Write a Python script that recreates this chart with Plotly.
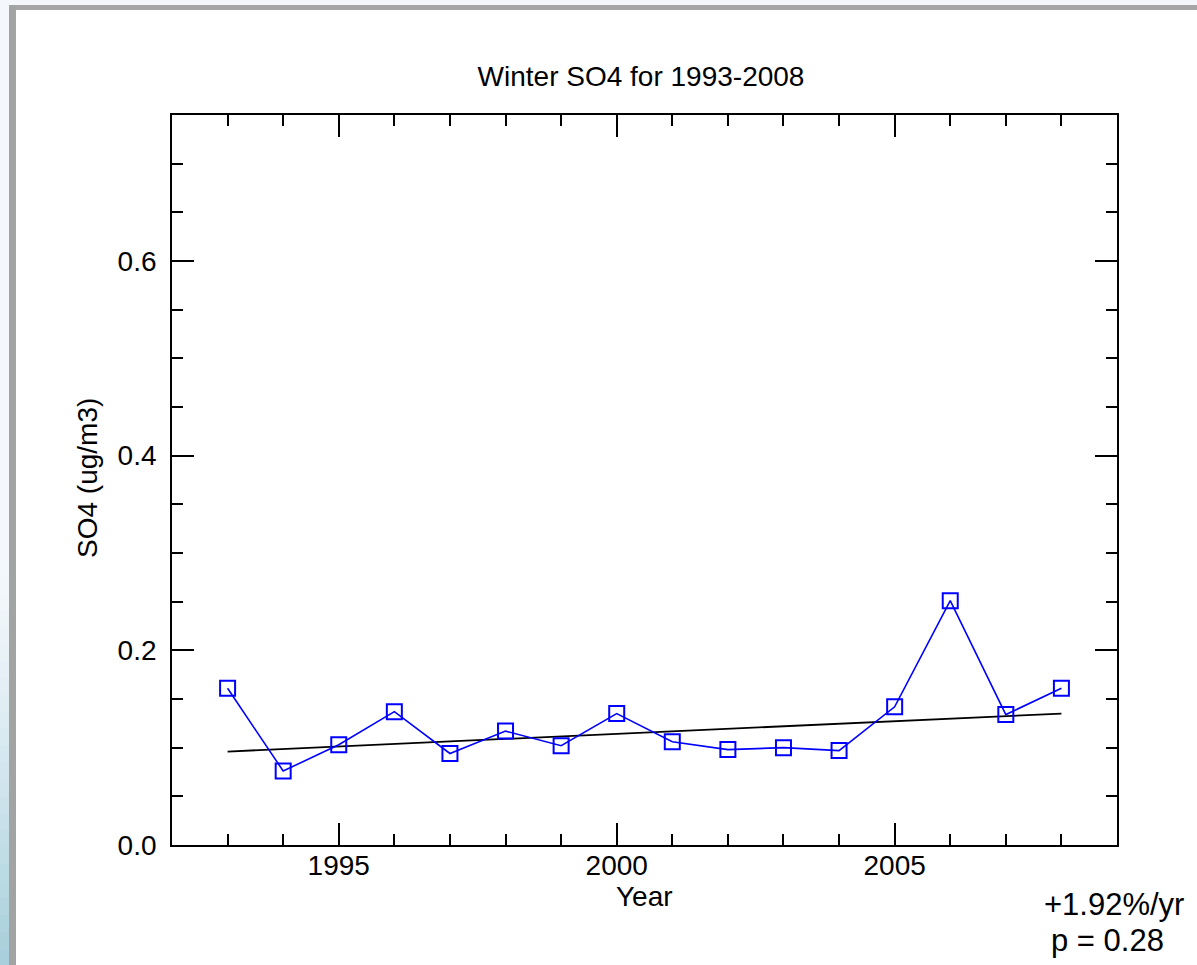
import plotly.graph_objects as go

# Winter sulfate concentrations, 1993-2008
years = [1993, 1994, 1995, 1996, 1997, 1998, 1999, 2000,
         2001, 2002, 2003, 2004, 2005, 2006, 2007, 2008]
so4 = [0.161, 0.076, 0.103, 0.137, 0.094, 0.117, 0.102, 0.135,
       0.106, 0.098, 0.100, 0.097, 0.142, 0.251, 0.134, 0.161]

# Linear trend endpoints
trend_years = [1993, 2008]
trend_vals = [0.096, 0.135]

trend_label = "+1.92%/yr"
p_label = "p = 0.28"

FONT = "Liberation Sans, Arial, Helvetica, sans-serif"

W, H = 1197, 965
L, R, T, B = 172, 80, 115, 120
PW, PH = W - L - R, H - T - B


def px(x):
    """pixel x -> paper x"""
    return (x - L) / PW


def py(y):
    """pixel y -> paper y"""
    return (H - B - y) / PH


fig = go.Figure()

fig.add_trace(go.Scatter(
    x=trend_years, y=trend_vals, mode="lines",
    line=dict(color="black", width=1.8),
    showlegend=False, hoverinfo="skip",
))

fig.add_trace(go.Scatter(
    x=years, y=so4, mode="lines+markers",
    line=dict(color="#0000ff", width=1.6),
    marker=dict(symbol="square-open", size=15, color="#0000ff",
                line=dict(width=2, color="#0000ff")),
    showlegend=False,
))

axis_common = dict(
    showgrid=False, zeroline=False,
    showline=True, linecolor="black", linewidth=1.8,
    mirror="ticks", ticks="inside", tickcolor="black", tickwidth=1.8,
    tickfont=dict(family=FONT, size=28, color="black"),
)

fig.update_xaxes(
    **axis_common,
    range=[1992, 2009],
    tick0=1995, dtick=5, ticklen=22,
    ticklabelstandoff=-6,
    minor=dict(ticks="inside", dtick=1, tick0=1992, ticklen=11,
               tickcolor="black", tickwidth=1.6),
)

fig.update_yaxes(
    **axis_common,
    range=[0, 0.75],
    tick0=0, dtick=0.2, ticklen=22, tickformat=".1f",
    ticklabelstandoff=8,
    minor=dict(ticks="inside", dtick=0.05, tick0=0, ticklen=11,
               tickcolor="black", tickwidth=1.6),
)

shapes = [
    # top light strip and gray bar
    dict(type="rect", xref="paper", yref="paper",
         x0=px(0), x1=px(W), y0=py(5), y1=py(0),
         fillcolor="#f4f7fc", line_width=0, layer="below"),
    dict(type="rect", xref="paper", yref="paper",
         x0=px(9), x1=px(W), y0=py(10), y1=py(5),
         fillcolor="#a6a6a6", line_width=0, layer="below"),
    # left gray bar
    dict(type="rect", xref="paper", yref="paper",
         x0=px(9), x1=px(16), y0=py(H), y1=py(5),
         fillcolor="#a2a4a4", line_width=0, layer="below"),
]

# left light strip, fading to pale blue toward the bottom
strip_top = (244, 248, 252)
strip_bot = (166, 206, 218)
n_steps = 24
y_start, y_end = 5, H
fade_from = 560
shapes.append(dict(type="rect", xref="paper", yref="paper",
                   x0=px(0), x1=px(9), y0=py(fade_from), y1=py(y_start),
                   fillcolor="rgb(%d,%d,%d)" % strip_top, line_width=0,
                   layer="below"))
for i in range(n_steps):
    a = fade_from + (y_end - fade_from) * i / n_steps
    b = fade_from + (y_end - fade_from) * (i + 1) / n_steps
    t = ((i + 0.5) / n_steps) ** 1.3
    c = tuple(round(strip_top[k] + (strip_bot[k] - strip_top[k]) * t) for k in range(3))
    shapes.append(dict(type="rect", xref="paper", yref="paper",
                       x0=px(0), x1=px(9), y0=py(b + 0.5), y1=py(a),
                       fillcolor="rgb(%d,%d,%d)" % c, line_width=0,
                       layer="below"))

fig.update_layout(
    width=W, height=H,
    margin=dict(l=L, r=R, t=T, b=B),
    paper_bgcolor="white", plot_bgcolor="white",
    title=dict(text="Winter SO4 for 1993-2008", x=px(641) * PW / W + L / W,
               xanchor="center", y=1 - 76 / H, yanchor="middle",
               font=dict(family=FONT, size=28, color="black")),
    annotations=[
        dict(text="Year", xref="paper", yref="paper",
             x=px(644), y=py(896), xanchor="center", yanchor="middle",
             showarrow=False, font=dict(family=FONT, size=28, color="black")),
        dict(text="SO4 (ug/m3)", xref="paper", yref="paper",
             x=px(87), y=py(478), xanchor="center", yanchor="middle",
             textangle=-90, showarrow=False,
             font=dict(family=FONT, size=28, color="black")),
        dict(text=trend_label, xref="paper", yref="paper",
             x=px(1186), y=py(905), xanchor="right", yanchor="middle",
             showarrow=False, font=dict(family=FONT, size=31, color="black")),
        dict(text=p_label, xref="paper", yref="paper",
             x=px(1049), y=py(941), xanchor="left", yanchor="middle",
             showarrow=False, font=dict(family=FONT, size=31, color="black")),
    ],
    shapes=shapes,
)

fig.write_html("out.html")
